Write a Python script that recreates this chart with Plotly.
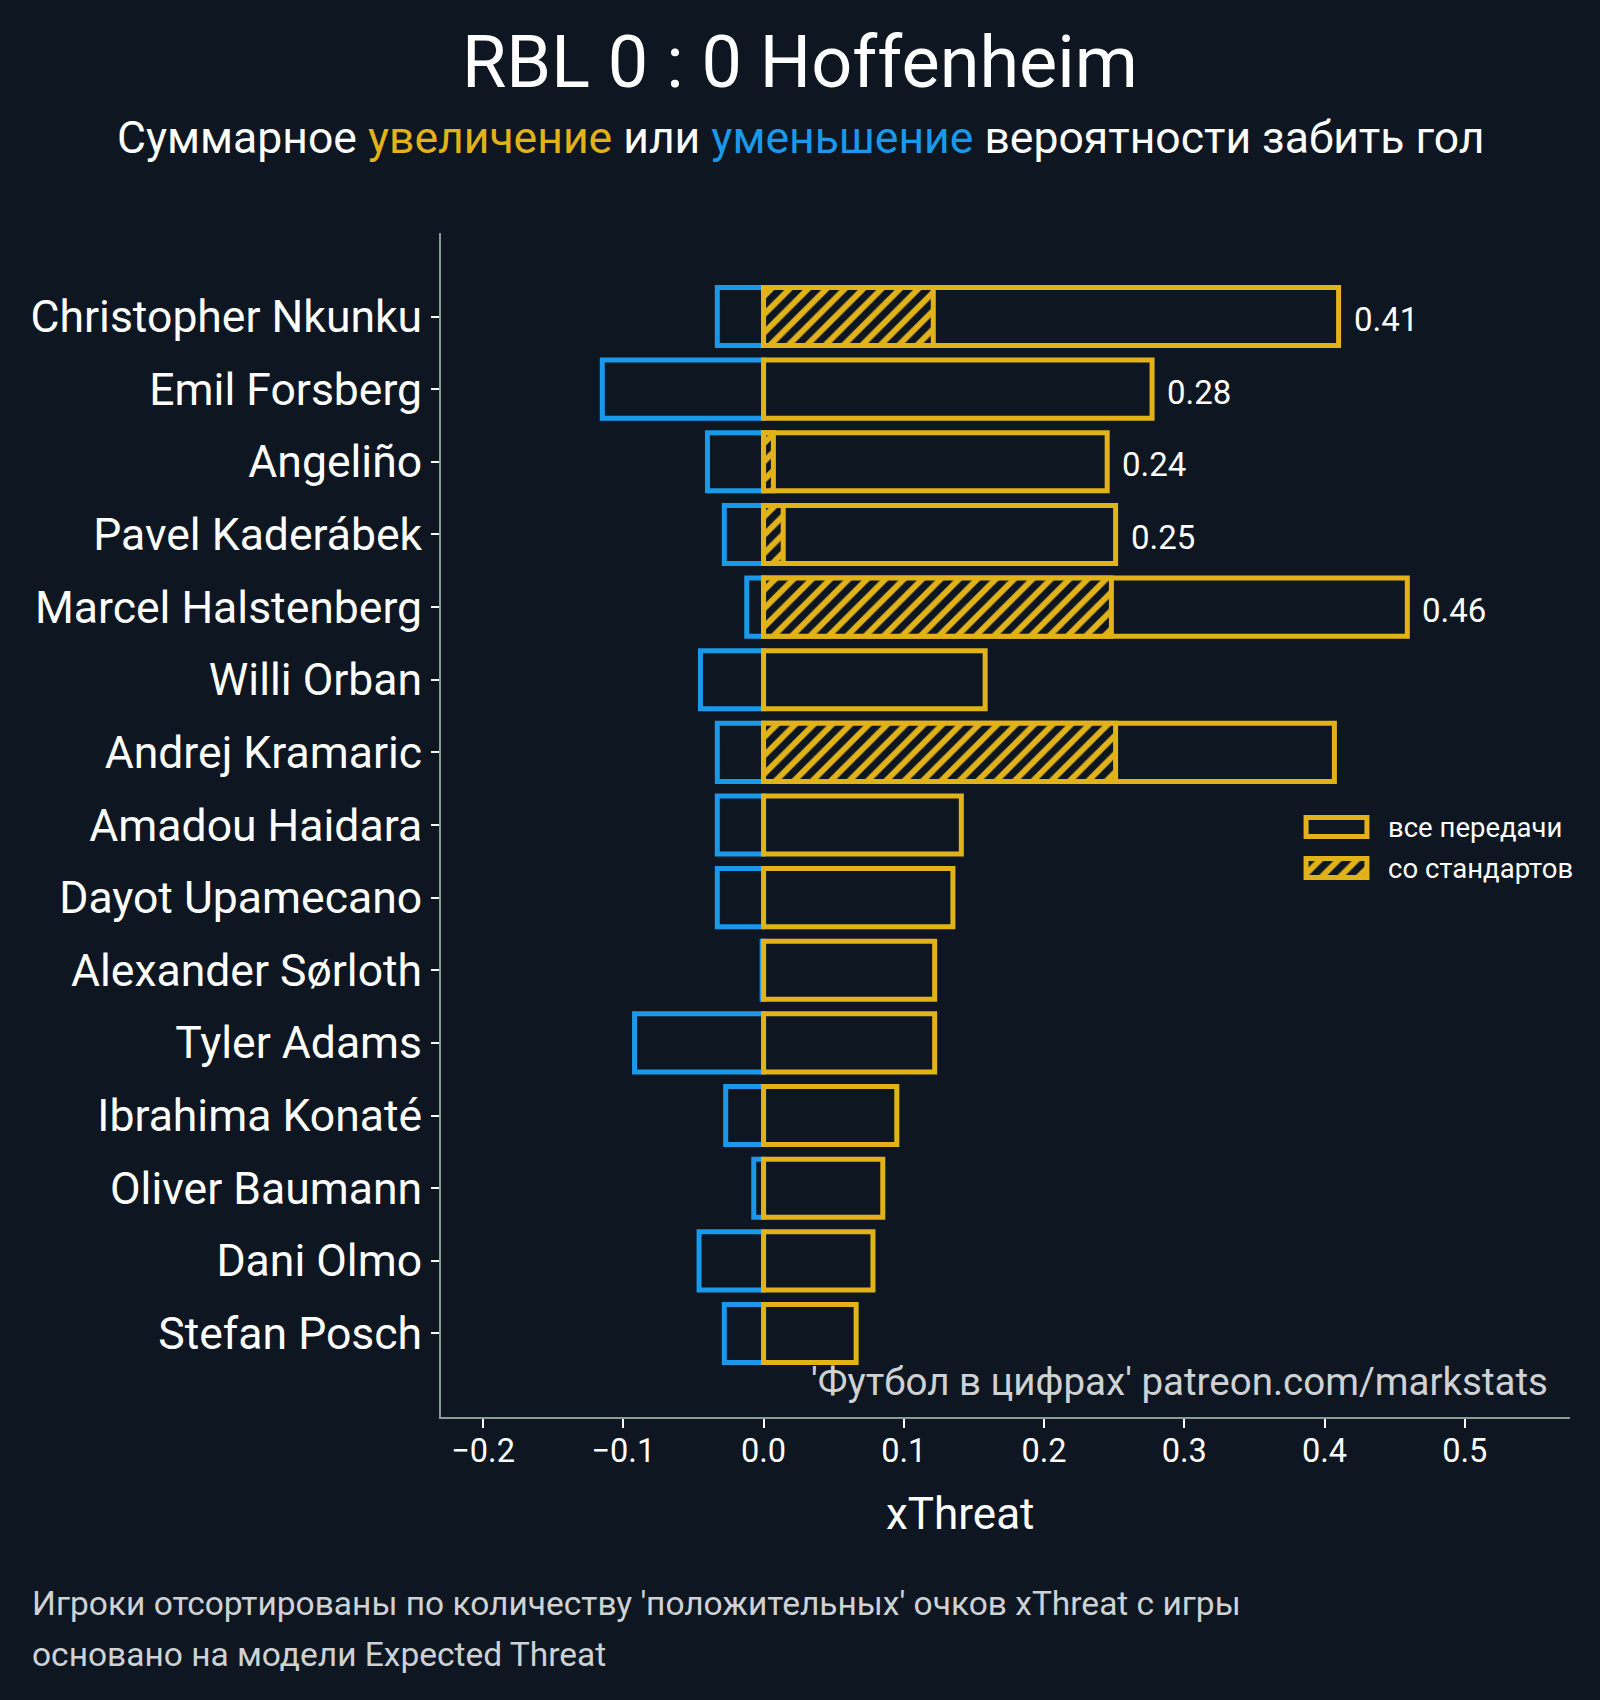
import plotly.graph_objects as go

# --- data ---
players = [
    "Christopher Nkunku", "Emil Forsberg", "Angeliño", "Pavel Kaderábek",
    "Marcel Halstenberg", "Willi Orban", "Andrej Kramaric", "Amadou Haidara",
    "Dayot Upamecano", "Alexander Sørloth", "Tyler Adams", "Ibrahima Konaté",
    "Oliver Baumann", "Dani Olmo", "Stefan Posch",
]
xt_positive = [0.410, 0.277, 0.245, 0.251, 0.459, 0.158, 0.407, 0.141,
               0.135, 0.122, 0.122, 0.095, 0.085, 0.078, 0.066]
xt_negative = [-0.033, -0.115, -0.040, -0.028, -0.012, -0.045, -0.033, -0.033,
               -0.033, -0.001, -0.092, -0.027, -0.007, -0.046, -0.028]
xt_setpiece = [0.121, 0.0, 0.007, 0.014, 0.248, 0.0, 0.251, 0.0,
               0.0, 0.0, 0.0, 0.0, 0.0, 0.0, 0.0]
show_value = [True, True, True, True, True, False, False, False,
              False, False, False, False, False, False, False]
legend_labels = ["все передачи", "со стандартов"]
x_ticks = [-0.2, -0.1, 0.0, 0.1, 0.2, 0.3, 0.4, 0.5]

BG = "#0e1721"
YELLOW = "#e1b319"
BLUE = "#1a98ea"
WHITE = "#ffffff"
GREY = "#cfd2d4"
SPINE = "#8a9c98"
FONT = "Roboto"

W, H = 1600, 1700
L, R, T, B = 441, 30, 233, 283
PW, PH = W - L - R, H - T - B


def px(xp):
    return (xp - L) / PW


def py(yp):
    return (T + PH - yp) / PH


ypos = list(range(len(players)))
EDGE = 5
BAR_W = 0.8
HATCH = dict(shape="/", fgcolor=YELLOW, bgcolor=BG, fgopacity=1,
             size=13, solidity=0.45)

fig = go.Figure()

fig.add_trace(go.Bar(
    y=ypos, x=xt_negative, orientation="h", width=BAR_W,
    marker=dict(color="rgba(0,0,0,0)", line=dict(color=BLUE, width=EDGE)),
    showlegend=False, hoverinfo="x+y",
))
fig.add_trace(go.Bar(
    y=ypos, x=xt_positive, orientation="h", width=BAR_W,
    marker=dict(color="rgba(0,0,0,0)", line=dict(color=YELLOW, width=EDGE)),
    showlegend=False, hoverinfo="x+y",
))
sp_y = [y for y, v in zip(ypos, xt_setpiece) if v > 0]
sp_x = [v for v in xt_setpiece if v > 0]
fig.add_trace(go.Bar(
    y=sp_y, x=sp_x, orientation="h", width=BAR_W,
    marker=dict(color=BG, line=dict(color=YELLOW, width=EDGE), pattern=HATCH),
    showlegend=False, hoverinfo="x+y",
))

# legend key drawn as a tiny second subplot
fig.add_trace(go.Bar(
    y=[0], x=[1], orientation="h", width=0.46, xaxis="x2", yaxis="y2",
    marker=dict(color="rgba(0,0,0,0)", line=dict(color=YELLOW, width=EDGE)),
    showlegend=False, hoverinfo="skip",
))
fig.add_trace(go.Bar(
    y=[1], x=[1], orientation="h", width=0.46, xaxis="x2", yaxis="y2",
    marker=dict(color=BG, line=dict(color=YELLOW, width=EDGE), pattern=HATCH),
    showlegend=False, hoverinfo="skip",
))

annotations = []
for i, (v, show) in enumerate(zip(xt_positive, show_value)):
    if show:
        annotations.append(dict(
            x=v, y=i, xref="x", yref="y", text=f"{v:.2f}", showarrow=False,
            xanchor="left", yanchor="middle", xshift=13, yshift=-3,
            font=dict(family=FONT, size=33, color=WHITE),
        ))

annotations += [
    dict(x=px(800), y=py(62), xref="paper", yref="paper", text="RBL 0 : 0 Hoffenheim",
         showarrow=False, xanchor="center", yanchor="middle",
         font=dict(family=FONT, size=72, color=WHITE)),
    dict(x=px(800), y=py(138), xref="paper", yref="paper",
         text=(f"Суммарное <span style='color:{YELLOW}'>увеличение</span> или "
               f"<span style='color:{BLUE}'>уменьшение</span> вероятности забить гол"),
         showarrow=False, xanchor="center", yanchor="middle",
         font=dict(family=FONT, size=44.5, color=WHITE)),
    dict(x=px(1550), y=py(1381), xref="paper", yref="paper",
         text="'Футбол в цифрах' patreon.com/markstats", showarrow=False,
         xanchor="right", yanchor="middle",
         font=dict(family=FONT, size=38.5, color=GREY)),
    dict(x=px(960), y=py(1514), xref="paper", yref="paper", text="xThreat",
         showarrow=False, xanchor="center", yanchor="middle",
         font=dict(family=FONT, size=44, color=WHITE)),
    dict(x=px(30), y=py(1603), xref="paper", yref="paper",
         text="Игроки отсортированы по количеству 'положительных' очков xThreat с игры",
         showarrow=False, xanchor="left", yanchor="middle",
         font=dict(family=FONT, size=33.5, color=GREY)),
    dict(x=px(30), y=py(1654), xref="paper", yref="paper",
         text="основано на модели Expected Threat",
         showarrow=False, xanchor="left", yanchor="middle",
         font=dict(family=FONT, size=33.5, color=GREY)),
]

fig.update_layout(
    width=W, height=H,
    paper_bgcolor=BG, plot_bgcolor=BG,
    margin=dict(l=L, r=R, t=T, b=B, pad=0),
    barmode="overlay",
    font=dict(family=FONT, color=WHITE),
    annotations=annotations,
    xaxis=dict(
        range=[-0.23, 0.575], tickvals=x_ticks,
        ticktext=[f"{t:.1f}".replace("-", "\u2212") for t in x_ticks],
        showgrid=False, zeroline=False,
        showline=True, linecolor=SPINE, linewidth=2,
        ticks="outside", ticklen=9, tickwidth=2, tickcolor=WHITE,
        ticklabelstandoff=-5,
        tickfont=dict(family=FONT, size=32.5, color=WHITE),
    ),
    yaxis=dict(
        range=[len(players) - 1 + 1.15, -1.15], tickvals=ypos, ticktext=players,
        showgrid=False, zeroline=False,
        showline=True, linecolor=SPINE, linewidth=2,
        ticks="outside", ticklen=8, tickwidth=2, tickcolor=WHITE,
        tickfont=dict(family=FONT, size=44.5, color=WHITE),
    ),
    xaxis2=dict(
        domain=[px(1300), px(1373)], range=[-0.1, 1.1], anchor="y2", visible=False,
    ),
    yaxis2=dict(
        domain=[py(888.5), py(806.5)], range=[1.5, -0.5], anchor="x2",
        tickvals=[0, 1], ticktext=legend_labels, side="right",
        showgrid=False, zeroline=False, showline=False, ticks="",
        ticklabelstandoff=14,
        tickfont=dict(family=FONT, size=27.5, color=WHITE),
    ),
)

# drop the default page margin so the figure fills the window edge to edge
fig.write_html(
    "out.html",
    config={"displayModeBar": False, "displaylogo": False},
    post_script="document.body.style.margin='0';"
                "document.body.style.background='" + BG + "';",
)
